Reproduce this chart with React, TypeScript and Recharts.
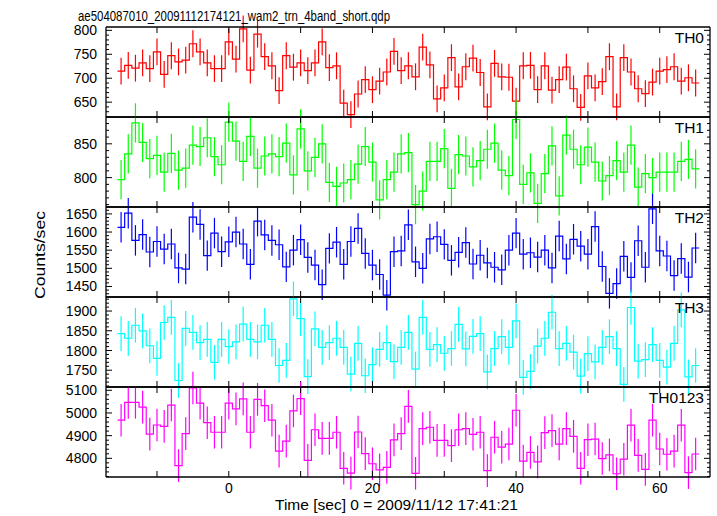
import React from "react";
import { LineChart, Line, XAxis, YAxis, ErrorBar } from "recharts";

// bin centres, 1 s bins
const binTimes = [
  -15, -14, -13, -12, -11, -10, -9, -8, -7, -6, -5, -4, -3, -2, -1, 0, 1, 2, 3, 4,
  5, 6, 7, 8, 9, 10, 11, 12, 13, 14, 15, 16, 17, 18, 19, 20, 21, 22, 23, 24, 25,
  26, 27, 28, 29, 30, 31, 32, 33, 34, 35, 36, 37, 38, 39, 40, 41, 42, 43, 44, 45,
  46, 47, 48, 49, 50, 51, 52, 53, 54, 55, 56, 57, 58, 59, 60, 61, 62, 63, 64, 65,
];

const th0Rate = [
  715, 727, 721, 732, 720, 755, 708, 747, 734, 738, 772, 755, 732, 720, 720, 776, 740, 803, 717, 792,
  745, 726, 674, 747, 723, 732, 716, 732, 776, 722, 726, 648, 624, 667, 697, 676, 694, 713, 756, 716, 726,
  703, 765, 728, 657, 680, 743, 682, 724, 742, 712, 640, 731, 703, 702, 652, 726, 727, 676, 726, 675,
  697, 723, 678, 639, 705, 680, 693, 745, 640, 743, 713, 678, 668, 692, 715, 718, 724, 694, 701, 690,
];
const th1Rate = [
  797, 835, 881, 852, 828, 833, 808, 836, 811, 814, 848, 846, 859, 831, 819, 882, 854, 824, 861, 814,
  832, 835, 831, 851, 804, 872, 810, 830, 850, 793, 787, 792, 797, 820, 846, 823, 767, 797, 808, 835, 837,
  760, 780, 824, 824, 843, 784, 834, 832, 816, 825, 842, 851, 811, 803, 886, 790, 807, 762, 806, 847,
  773, 863, 842, 819, 845, 823, 795, 803, 825, 808, 848, 786, 806, 800, 808, 808, 808, 824, 827, 813,
];
const th2Rate = [
  1613, 1652, 1577, 1593, 1545, 1574, 1553, 1567, 1501, 1498, 1641, 1621, 1535, 1597, 1546, 1573, 1600, 1567, 1511, 1630,
  1592, 1577, 1565, 1504, 1550, 1579, 1530, 1509, 1455, 1555, 1572, 1511, 1574, 1610, 1541, 1509, 1483, 1426, 1546, 1548, 1620,
  1518, 1500, 1581, 1587, 1566, 1522, 1544, 1571, 1512, 1536, 1515, 1503, 1496, 1550, 1597, 1539, 1543, 1531, 1550, 1501,
  1589, 1526, 1580, 1561, 1539, 1615, 1505, 1431, 1458, 1533, 1475, 1576, 1503, 1664, 1548, 1534, 1480, 1527, 1476, 1556,
];
const th3Rate = [
  1843, 1831, 1864, 1850, 1812, 1780, 1871, 1884, 1724, 1856, 1846, 1820, 1828, 1770, 1828, 1810, 1822, 1867, 1828, 1822,
  1864, 1828, 1762, 1775, 1931, 1881, 1734, 1855, 1808, 1820, 1831, 1808, 1740, 1818, 1736, 1764, 1803, 1820, 1772, 1808, 1846,
  1753, 1884, 1803, 1815, 1793, 1805, 1866, 1804, 1836, 1843, 1746, 1805, 1835, 1808, 1875, 1732, 1747, 1811, 1831, 1897,
  1805, 1818, 1796, 1735, 1792, 1771, 1808, 1835, 1805, 1714, 1909, 1773, 1777, 1815, 1775, 1758, 1818, 1903, 1733, 1762,
];
const th0123Rate = [
  4968, 5047, 5047, 5026, 4907, 4947, 4941, 5035, 4768, 4909, 5110, 5043, 4957, 4915, 4915, 5043, 5018, 5062, 4915, 5060,
  5032, 4968, 4832, 4876, 5009, 5063, 4791, 4926, 4888, 4888, 4915, 4756, 4735, 4916, 4821, 4776, 4749, 4760, 4881, 4909, 5029,
  4734, 4931, 4937, 4879, 4879, 4856, 4926, 4931, 4906, 4915, 4746, 4893, 4849, 4863, 5012, 4788, 4826, 4784, 4913, 4922,
  4863, 4931, 4897, 4756, 4882, 4885, 4799, 4815, 4732, 4796, 4946, 4813, 4751, 4968, 4841, 4818, 4832, 4946, 4737, 4819,
];

// 1-sigma errors (counts/sec)
const th0Err = 28;
const th1Err = 29;
const th2Err = 42;
const th3Err = 44;
const th0123Err = 72;

const xTicks = [-10, 0, 10, 20, 30, 40, 50, 60];
const xLabelTicks = [0, 20, 40, 60];

const th0Ticks = [650, 700, 750, 800];
const th1Ticks = [800, 850];
const th2Ticks = [1450, 1500, 1550, 1600, 1650];
const th3Ticks = [1750, 1800, 1850, 1900];
const th0123Ticks = [4800, 4900, 5000, 5100];

const FONT = '"Liberation Sans", Arial, Helvetica, sans-serif';
const W = 717;
const H = 516;
const PLOT_LEFT = 106;
const PLOT_RIGHT = 710;
const PANEL_TOP = 27;
const PANEL_H = 90;
const PAD = 30;
const X_DOMAIN: [number, number] = [-17.1, 67];

type PanelDef = {
  name: string;
  rates: number[];
  err: number;
  color: string;
  domain: [number, number];
  major: number[];
  minorStep: number;
};

const panels: PanelDef[] = [
  { name: "TH0", rates: th0Rate, err: th0Err, color: "#ff0000", domain: [619, 807], major: th0Ticks, minorStep: 10 },
  { name: "TH1", rates: th1Rate, err: th1Err, color: "#00ff00", domain: [756.5, 889.7], major: th1Ticks, minorStep: 10 },
  { name: "TH2", rates: th2Rate, err: th2Err, color: "#0000ff", domain: [1421, 1669], major: th2Ticks, minorStep: 10 },
  { name: "TH3", rates: th3Rate, err: th3Err, color: "#00ffff", domain: [1707.5, 1935.6], major: th3Ticks, minorStep: 10 },
  { name: "TH0123", rates: th0123Rate, err: th0123Err, color: "#ff00ff", domain: [4717.6, 5114.5], major: th0123Ticks, minorStep: 20 },
];

const yTicksFor = (p: PanelDef) => {
  const out: number[] = [];
  const start = Math.ceil(p.domain[0] / p.minorStep) * p.minorStep;
  for (let v = start; v <= p.domain[1]; v += p.minorStep) out.push(v);
  return out;
};

const MAJOR = 6;
const MINOR = 3;

const leftTick = (major: number[]) => (p: any) => {
  const v = p.payload.value;
  const isMajor = major.includes(v);
  return (
    <g>
      <line x1={p.x} x2={p.x + (isMajor ? MAJOR : MINOR)} y1={p.y} y2={p.y} stroke="#000" />
      {isMajor && (
        <text x={p.x - 9} y={p.y} textAnchor="end" dominantBaseline="central" fontSize={14} fontFamily={FONT} fill="#000">
          {v}
        </text>
      )}
    </g>
  );
};

const rightTick = (major: number[]) => (p: any) => {
  const isMajor = major.includes(p.payload.value);
  return <line x1={p.x} x2={p.x - (isMajor ? MAJOR : MINOR)} y1={p.y} y2={p.y} stroke="#000" />;
};

const bottomTick = (showLabels: boolean) => (p: any) => {
  const v = p.payload.value;
  return (
    <g>
      <line x1={p.x} x2={p.x} y1={p.y} y2={p.y - MAJOR} stroke="#000" />
      {showLabels && xLabelTicks.includes(v) && (
        <text x={p.x} y={p.y + 11} textAnchor="middle" dominantBaseline="central" fontSize={14} fontFamily={FONT} fill="#000">
          {v}
        </text>
      )}
    </g>
  );
};

const topTick = (p: any) => <line x1={p.x} x2={p.x} y1={p.y} y2={p.y + MAJOR} stroke="#000" />;

function Panel({ def, idx, last }: { def: PanelDef; idx: number; last: boolean }) {
  const n = def.rates.length;
  const rows = [
    { t: binTimes[0] - 0.5, v: def.rates[0], e: 0 },
    ...binTimes.map((t, i) => ({ t, v: def.rates[i], e: def.err })),
    { t: binTimes[n - 1] + 0.5, v: def.rates[n - 1], e: 0 },
  ];
  const axisLine = { stroke: "#000", strokeWidth: 1.3 };
  const yTicks = yTicksFor(def);

  return (
    <div style={{ position: "absolute", left: 0, top: PANEL_TOP + idx * PANEL_H - PAD }}>
      <LineChart width={W} height={PANEL_H + 2 * PAD} data={rows} margin={{ top: 0, right: 0, bottom: 0, left: 0 }}>
        <XAxis
          xAxisId="b"
          dataKey="t"
          type="number"
          domain={X_DOMAIN}
          allowDataOverflow
          ticks={xTicks}
          interval={0}
          height={PAD}
          tickSize={0}
          tickMargin={0}
          tickLine={false}
          axisLine={axisLine}
          tick={bottomTick(last)}
        />
        <XAxis
          xAxisId="t"
          orientation="top"
          dataKey="t"
          type="number"
          domain={X_DOMAIN}
          allowDataOverflow
          ticks={xTicks}
          interval={0}
          height={PAD}
          tickSize={0}
          tickMargin={0}
          tickLine={false}
          axisLine={axisLine}
          tick={topTick}
        />
        <YAxis
          yAxisId="l"
          type="number"
          domain={def.domain}
          allowDataOverflow
          ticks={yTicks}
          interval={0}
          width={PLOT_LEFT}
          tickSize={0}
          tickMargin={0}
          tickLine={false}
          axisLine={axisLine}
          tick={leftTick(def.major)}
        />
        <YAxis
          yAxisId="r"
          orientation="right"
          type="number"
          domain={def.domain}
          allowDataOverflow
          ticks={yTicks}
          interval={0}
          width={W - PLOT_RIGHT}
          tickSize={0}
          tickMargin={0}
          tickLine={false}
          axisLine={axisLine}
          tick={rightTick(def.major)}
        />
        <Line
          xAxisId="b"
          yAxisId="l"
          dataKey="v"
          type="step"
          stroke={def.color}
          strokeWidth={1.2}
          dot={false}
          activeDot={false}
          isAnimationActive={false}
        >
          <ErrorBar dataKey="e" width={0} stroke={def.color} strokeWidth={1.2} direction="y" isAnimationActive={false} />
        </Line>
      </LineChart>
    </div>
  );
}

export default function App() {
  return (
    <div style={{ position: "absolute", left: 0, top: 0, width: W, height: H, background: "#fff" }}>
      <style>{`.recharts-wrapper [clip-path]{clip-path:none}`}</style>
      {panels.map((p, i) => (
        <Panel key={p.name} def={p} idx={i} last={i === panels.length - 1} />
      ))}
      <svg width={W} height={H} style={{ position: "absolute", left: 0, top: 0, pointerEvents: "none" }}>
        <text x={78} y={20.5} fontSize={15.5} fontFamily={FONT} textLength={312} lengthAdjust="spacingAndGlyphs">
          ae504087010_20091112174121_wam2_trn_4band_short.qdp
        </text>
        <text
          x={45}
          y={255}
          transform="rotate(-90 45 255)"
          textAnchor="middle"
          fontSize={14.5}
          fontFamily={FONT}
          textLength={88}
          lengthAdjust="spacingAndGlyphs"
        >
          Counts/sec
        </text>
        <text x={275} y={510} fontSize={14.5} fontFamily={FONT} textLength={243} lengthAdjust="spacingAndGlyphs">
          Time [sec] 0 = 2009/11/12 17:41:21
        </text>
        {panels.map((p, i) => (
          <text key={p.name} x={704} y={PANEL_TOP + i * PANEL_H + 16} textAnchor="end" fontSize={15.5} fontFamily={FONT}>
            {p.name}
          </text>
        ))}
      </svg>
    </div>
  );
}
